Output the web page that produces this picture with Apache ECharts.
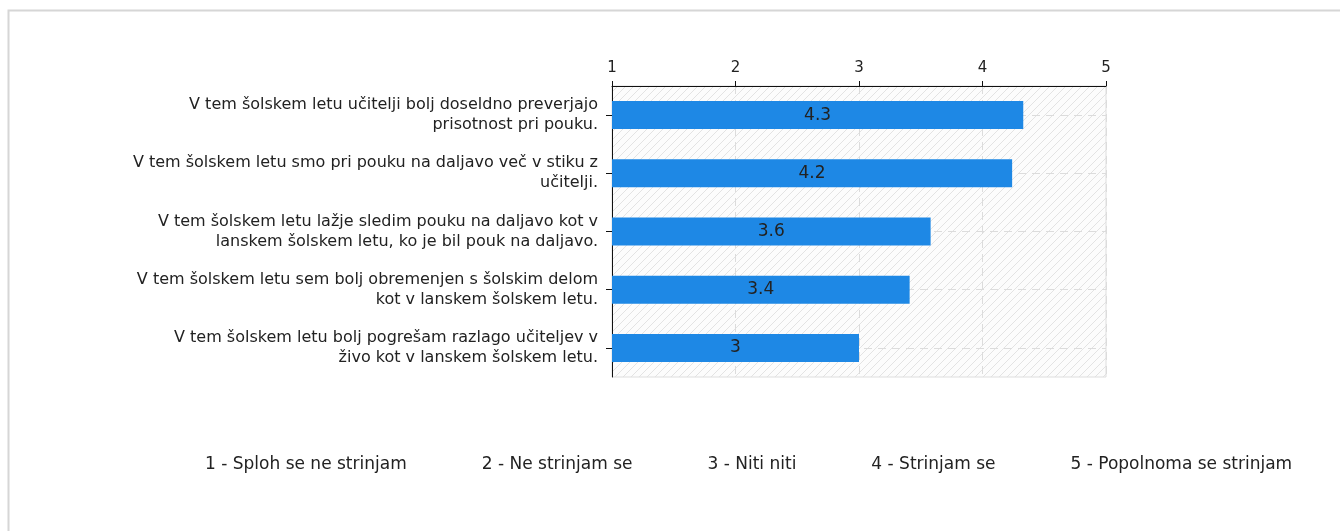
<!DOCTYPE html>
<html>
<head>
<meta charset="utf-8">
<script src="https://cdn.jsdelivr.net/npm/echarts@6/dist/echarts.min.js"></script>
<style>
html,body{margin:0;padding:0;background:#fff;}
#c{width:1340px;height:531px;}
</style>
</head>
<body>
<div id="c"></div>
<script>
const categories = [
  "V tem šolskem letu učitelji bolj doseldno preverjajo\nprisotnost pri pouku.",
  "V tem šolskem letu smo pri pouku na daljavo več v stiku z\nučitelji.",
  "V tem šolskem letu lažje sledim pouku na daljavo kot v\nlanskem šolskem letu, ko je bil pouk na daljavo.",
  "V tem šolskem letu sem bolj obremenjen s šolskim delom\nkot v lanskem šolskem letu.",
  "V tem šolskem letu bolj pogrešam razlago učiteljev v\nživo kot v lanskem šolskem letu."
];
const values = [4.33, 4.24, 3.58, 3.41, 3.0];
const scaleLabels = [
  "1 - Sploh se ne strinjam",
  "2 - Ne strinjam se",
  "3 - Niti niti",
  "4 - Strinjam se",
  "5 - Popolnoma se strinjam"
];
const axisMin = 1, axisMax = 5, axisStep = 1;

// hatched background pattern
const pc = document.createElement('canvas');
pc.width = 8; pc.height = 8;
const g = pc.getContext('2d');
g.fillStyle = '#fcfcfc';
g.fillRect(0,0,8,8);
g.strokeStyle = '#e3e3e3';
g.lineWidth = 1;
g.beginPath();
g.moveTo(0,8); g.lineTo(8,0);
g.moveTo(-4,4); g.lineTo(4,-4);
g.moveTo(4,12); g.lineTo(12,4);
g.stroke();

const font = 'DejaVu Sans';
const chart = echarts.init(document.getElementById('c'));
const series = [
  {
    type: 'bar',
    data: values,
    barWidth: 28,
    z: 5,
    itemStyle: { color: '#1e88e5' },
    label: {
      show: true, position: 'inside', color: '#222', fontFamily: font, fontSize: 17,
      formatter: p => String(Math.round(p.value * 10) / 10)
    }
  },
  {
    type: 'line',
    data: [],
    z: 1,
    markLine: {
      silent: true, symbol: 'none', z: 1, label: { show: false },
      lineStyle: { color: '#dcdcdc', type: [8, 6], width: 1 },
      data: categories.map(c => ({ yAxis: c }))
    }
  }
];
scaleLabels.forEach(n => series.push({ type: 'line', name: n, data: [] }));

chart.setOption({
  animation: false,
  graphic: [{
    type: 'rect', left: 6, top: 8,
    shape: { width: 1400, height: 600 },
    style: { fill: 'none', stroke: '#d6d6d6', lineWidth: 2 }
  }],
  grid: {
    left: 612, right: 234, top: 86, bottom: 154,
    show: true,
    backgroundColor: { image: pc, repeat: 'repeat' },
    borderColor: '#dedede', borderWidth: 1
  },
  legend: {
    data: scaleLabels,
    left: 195, top: 451,
    itemWidth: 0, itemHeight: 0, itemGap: 70,
    icon: 'rect',
    textStyle: { color: '#222', fontFamily: font, fontSize: 17 }
  },
  xAxis: {
    type: 'value', position: 'top',
    min: axisMin, max: axisMax, interval: axisStep,
    axisLine: { show: true, lineStyle: { color: '#111', width: 1 } },
    axisTick: { show: true, length: 5, lineStyle: { color: '#111' } },
    axisLabel: { color: '#222', fontFamily: font, fontSize: 15, margin: 10 },
    splitLine: { show: true, lineStyle: { color: '#dcdcdc', type: [8, 6] } }
  },
  yAxis: {
    type: 'category', inverse: true, data: categories,
    axisLine: { show: true, lineStyle: { color: '#111', width: 1 } },
    axisTick: { show: true, alignWithLabel: true, length: 6, lineStyle: { color: '#111' } },
    axisLabel: { color: '#222', fontFamily: font, fontSize: 16, lineHeight: 20, margin: 14, align: 'right' },
    splitLine: { show: false }
  },
  series: series
});
</script>
</body>
</html>
